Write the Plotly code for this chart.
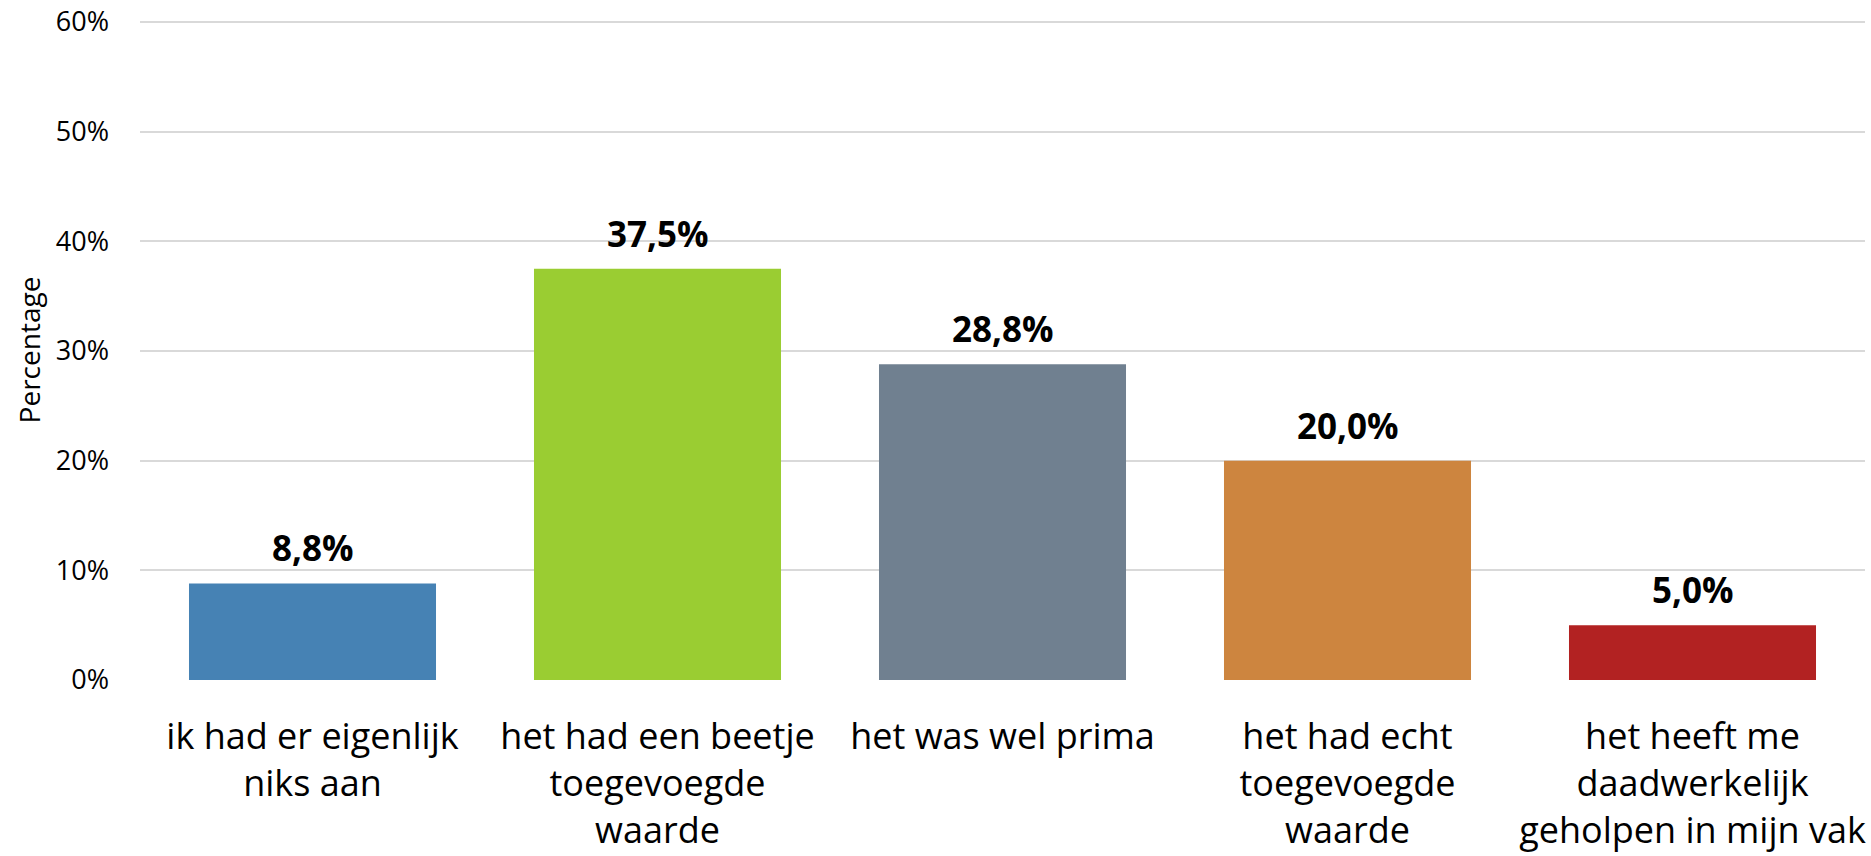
import plotly.graph_objects as go

categories = [
    "ik had er eigenlijk<br>niks aan",
    "het had een beetje<br>toegevoegde<br>waarde",
    "het was wel prima",
    "het had echt<br>toegevoegde<br>waarde",
    "het heeft me<br>daadwerkelijk<br>geholpen in mijn vak",
]
values = [8.8, 37.5, 28.8, 20.0, 5.0]
colors = ["#4682B4", "#9ACD32", "#708090", "#CD853F", "#B22222"]
tick_vals = [0, 10, 20, 30, 40, 50, 60]
tick_text = ["0%", "10%", "20%", "30%", "40%", "50%", "60%"]

FONT = "Open Sans"

fig = go.Figure()
fig.add_trace(go.Bar(
    x=categories, y=values,
    marker=dict(color=colors, line=dict(width=0)),
    hoverinfo="skip",
))

for c, v in zip(categories, values):
    fig.add_annotation(
        x=c, y=v, xref="x", yref="y",
        text="<b>" + f"{v:.1f}".replace(".", ",") + "%</b>",
        showarrow=False, yanchor="bottom", yshift=10,
        font=dict(family=FONT, size=35, color="#000000"),
    )

fig.update_layout(
    width=1871, height=856,
    margin=dict(l=140, r=6, t=20, b=176),
    paper_bgcolor="white", plot_bgcolor="white",
    bargap=0.284,
    showlegend=False,
    font=dict(family=FONT, color="#000000"),
    xaxis=dict(
        showgrid=False, showline=False, zeroline=False,
        tickfont=dict(family=FONT, size=36, color="#000000"),
        ticks="", ticklabelstandoff=32, automargin=False,
    ),
    yaxis=dict(
        range=[0, 60.18], tickvals=tick_vals, ticktext=tick_text,
        showgrid=True, gridcolor="#d9d9d9", gridwidth=2,
        zeroline=False, showline=False, ticks="",
        tickfont=dict(family=FONT, size=27, color="#000000"),
        ticklabelstandoff=30, ticklabeloverflow="allow",
        title=dict(text="Percentage", font=dict(family=FONT, size=28, color="#000000"), standoff=6),
        automargin=False,
    ),
)

fig.write_html(
    "out.html",
    config={"displayModeBar": False},
    post_script="document.body.style.margin='0';document.body.style.overflow='hidden';",
)
